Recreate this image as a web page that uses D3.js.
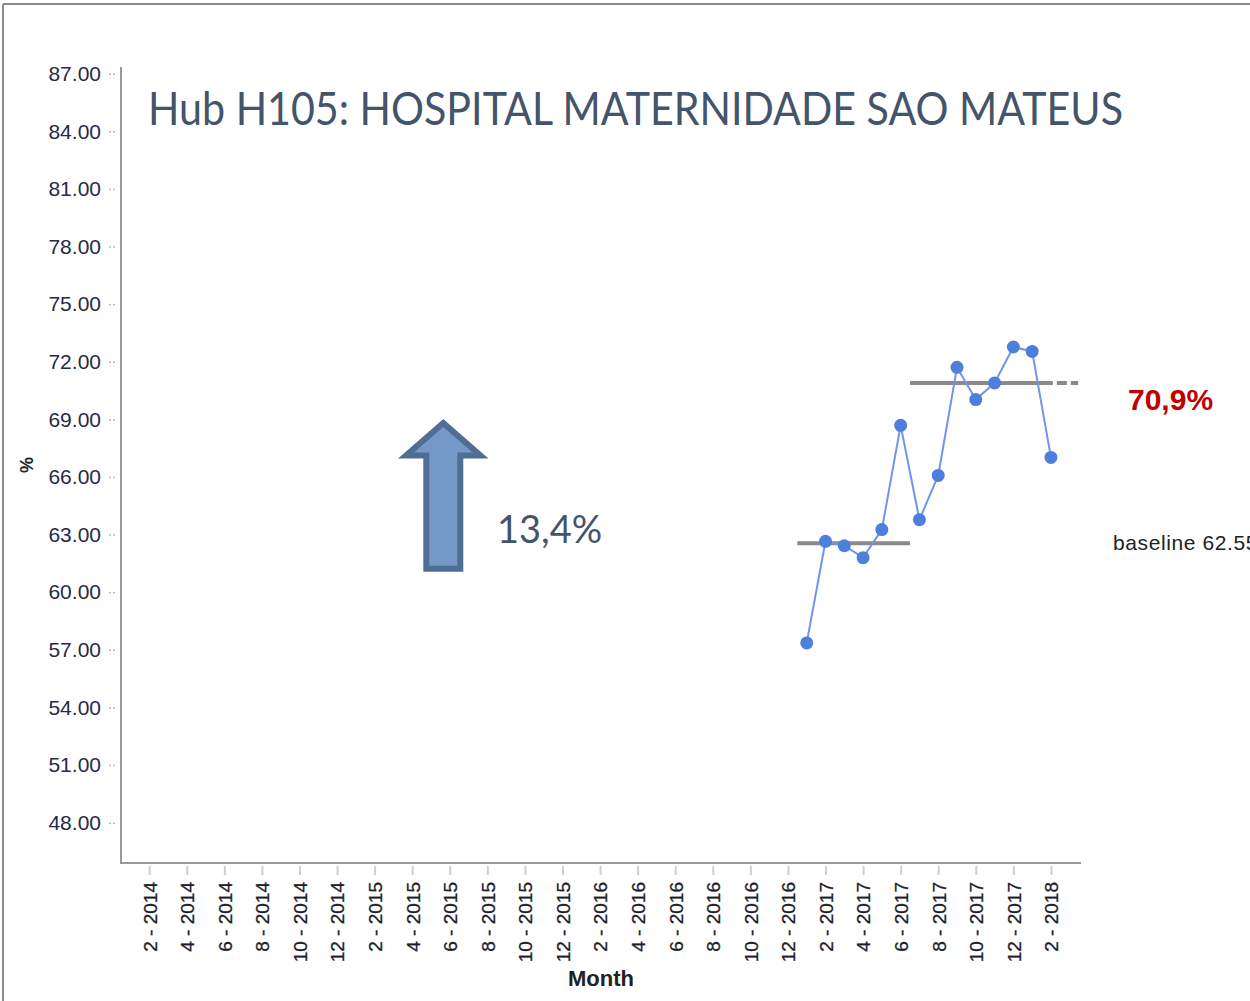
<!DOCTYPE html>
<html>
<head>
<meta charset="utf-8">
<script src="https://cdn.jsdelivr.net/npm/d3@7"></script>
<style>
  html, body { margin: 0; padding: 0; background: #fff; }
  svg { display: block; font-family: "Liberation Sans", Arial, sans-serif; }
</style>
</head>
<body>
<div id="container"></div>
<script>
// Series: monthly % (Jan 2017 .. Feb 2018)
const months = ['1 - 2017', '2 - 2017', '3 - 2017', '4 - 2017', '5 - 2017', '6 - 2017', '7 - 2017',
  '8 - 2017', '9 - 2017', '10 - 2017', '11 - 2017', '12 - 2017', '1 - 2018', '2 - 2018'];
const values = [57.36, 62.65, 62.42, 61.80, 63.26, 68.69, 63.78, 66.08, 71.71, 70.03, 70.90, 72.77, 72.54, 67.02];

// Reference levels: [from month, to month, level]
const baselinePeriod = ['1 - 2017', '6 - 2017', 62.55];
const currentPeriod = ['7 - 2017', '2 - 2018', 70.9];

const yTicks = [48, 51, 54, 57, 60, 63, 66, 69, 72, 75, 78, 81, 84, 87];
const xTickLabels = ['2 - 2014', '4 - 2014', '6 - 2014', '8 - 2014', '10 - 2014', '12 - 2014',
  '2 - 2015', '4 - 2015', '6 - 2015', '8 - 2015', '10 - 2015', '12 - 2015',
  '2 - 2016', '4 - 2016', '6 - 2016', '8 - 2016', '10 - 2016', '12 - 2016',
  '2 - 2017', '4 - 2017', '6 - 2017', '8 - 2017', '10 - 2017', '12 - 2017', '2 - 2018'];

const title = 'Hub H105: HOSPITAL MATERNIDADE SAO MATEUS';
const changeLabel = '13,4%';
const currentLabel = '70,9%';
const baselineLabel = 'baseline 62.55';

// months since Jan 2014
const monthIndex = s => {
  const [m, y] = s.split(' - ').map(Number);
  return (y - 2014) * 12 + (m - 1);
};

const W = 1250, H = 1001;
const plot = { left: 121, right: 1081, top: 67, bottom: 863 };
const officeFont = 'Lato, "Open Sans", sans-serif';

const svg = d3.select('#container').append('svg')
  .attr('width', W)
  .attr('height', H);

// frame (left + top edges only visible)
svg.append('line').attr('x1', 3).attr('x2', 3).attr('y1', 4).attr('y2', H)
  .attr('stroke', '#8c8c8c').attr('stroke-width', 2);
svg.append('line').attr('x1', 3).attr('x2', W).attr('y1', 4).attr('y2', 4)
  .attr('stroke', '#8c8c8c').attr('stroke-width', 2);

const xScale = d3.scaleLinear().domain([-0.5, 50.6]).range([plot.left, plot.right]);
const yScale = d3.scaleLinear().domain([45.9, 87.35]).range([plot.bottom, plot.top]);

// y axis
const yAxis = svg.append('g')
  .attr('transform', `translate(${plot.left},0)`)
  .call(d3.axisLeft(yScale).tickValues(yTicks).tickFormat(d3.format('.2f')).tickSize(0).tickPadding(20));
yAxis.select('.domain').remove();
yAxis.selectAll('text')
  .style('font-size', '21px')
  .style('font-family', '"Liberation Sans", Arial, sans-serif')
  .attr('fill', '#262b45');
yAxis.selectAll('.tick').append('line')
  .attr('x1', -12).attr('x2', -5)
  .attr('stroke', '#bbb').attr('stroke-width', 1.5)
  .attr('stroke-dasharray', '2,2');

// x axis
const xAxis = svg.append('g')
  .attr('transform', `translate(0,${plot.bottom})`)
  .call(d3.axisBottom(xScale)
    .tickValues(xTickLabels.map(monthIndex))
    .tickFormat((d, i) => xTickLabels[i])
    .tickSize(12).tickPadding(0));
xAxis.select('.domain').remove();
xAxis.selectAll('.tick line')
  .attr('y1', 3)
  .attr('stroke', '#cfcfcf').attr('stroke-width', 2);
xAxis.selectAll('text')
  .style('font-size', '19px')
  .style('font-family', '"Liberation Sans", Arial, sans-serif')
  .attr('fill', '#1d1d2b')
  .attr('stroke', '#1d1d2b')
  .attr('stroke-width', 0.3)
  .attr('text-anchor', 'end')
  .attr('transform', 'rotate(-90)')
  .attr('x', -19)
  .attr('y', 0)
  .attr('dy', '0.36em');

// axis lines
svg.append('path')
  .attr('d', `M${plot.left},${plot.top}V${plot.bottom}H${plot.right}`)
  .attr('fill', 'none')
  .attr('stroke', '#999')
  .attr('stroke-width', 2);

// axis titles
svg.append('text')
  .attr('transform', `translate(33,${(plot.top + plot.bottom) / 2}) rotate(-90)`)
  .attr('text-anchor', 'middle')
  .style('font-size', '18px')
  .style('font-weight', 'bold')
  .attr('fill', '#222')
  .text('%');
svg.append('text')
  .attr('x', (plot.left + plot.right) / 2)
  .attr('y', 986)
  .attr('text-anchor', 'middle')
  .style('font-size', '22px')
  .style('font-weight', 'bold')
  .attr('fill', '#222')
  .text('Month');

// title
svg.append('text')
  .attr('x', 148)
  .attr('y', 125)
  .style('font-family', officeFont)
  .style('font-size', '46px')
  .attr('fill', '#44546a')
  .attr('textLength', 975)
  .attr('lengthAdjust', 'spacingAndGlyphs')
  .text(title);

// reference levels
const levels = svg.append('g')
  .attr('stroke', '#8a8a8a')
  .attr('stroke-width', 4)
  .attr('fill', 'none');
levels.append('line')
  .attr('x1', xScale(monthIndex(baselinePeriod[0]) - 0.5))
  .attr('x2', xScale(monthIndex(baselinePeriod[1]) + 0.5))
  .attr('y1', yScale(baselinePeriod[2]))
  .attr('y2', yScale(baselinePeriod[2]));
const curEnd = monthIndex(currentPeriod[1]) + 0.1;
levels.append('line')
  .attr('x1', xScale(monthIndex(currentPeriod[0]) - 0.5))
  .attr('x2', xScale(curEnd))
  .attr('y1', yScale(currentPeriod[2]))
  .attr('y2', yScale(currentPeriod[2]));
levels.append('line')
  .attr('x1', xScale(curEnd))
  .attr('x2', xScale(curEnd + 1.35))
  .attr('y1', yScale(currentPeriod[2]))
  .attr('y2', yScale(currentPeriod[2]))
  .attr('stroke-dasharray', '10,4')
  .attr('stroke-dashoffset', 10);

// series
const data = months.map((m, i) => ({ t: monthIndex(m), v: values[i] }));
const line = d3.line().x(d => xScale(d.t)).y(d => yScale(d.v));

svg.append('path')
  .datum(data)
  .attr('d', line)
  .attr('fill', 'none')
  .attr('stroke', '#6f96e8')
  .attr('stroke-width', 2);

svg.append('g').attr('class', 'circles')
  .selectAll('circle')
  .data(data)
  .enter().append('circle')
  .attr('cx', d => xScale(d.t))
  .attr('cy', d => yScale(d.v))
  .attr('r', 6.5)
  .attr('fill', '#4f7fdc');

// annotations
svg.append('path')
  .attr('d', 'M443.3,423 L480.5,455.5 L460.3,455.5 L460.3,568.7 L426.3,568.7 L426.3,455.5 L406,455.5 Z')
  .attr('fill', '#7499c8')
  .attr('stroke', '#506e94')
  .attr('stroke-width', 6)
  .attr('stroke-linejoin', 'miter');

svg.append('text')
  .attr('x', 497)
  .attr('y', 543)
  .style('font-family', officeFont)
  .style('font-size', '38px')
  .attr('fill', '#44546a')
  .text(changeLabel);

svg.append('text')
  .attr('x', 1128)
  .attr('y', 410)
  .style('font-size', '30px')
  .style('font-weight', 'bold')
  .attr('fill', '#c00000')
  .text(currentLabel);

svg.append('text')
  .attr('x', 1113)
  .attr('y', 550)
  .style('font-size', '21px')
  .style('letter-spacing', '0.6px')
  .attr('fill', '#222')
  .text(baselineLabel);
</script>
</body>
</html>
